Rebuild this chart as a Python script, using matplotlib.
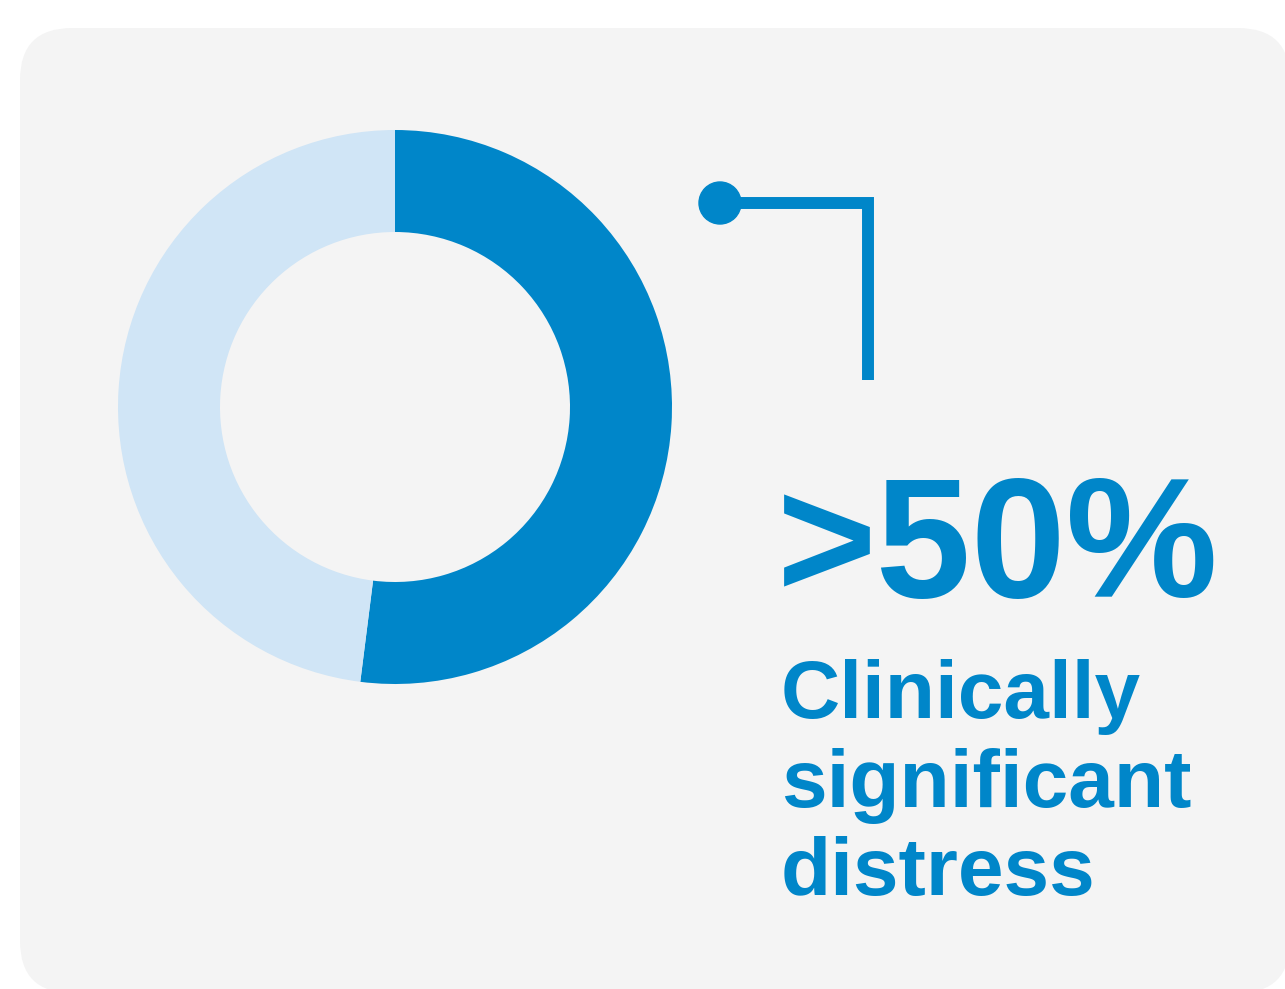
import matplotlib
matplotlib.use("Agg")
import matplotlib.pyplot as plt
from matplotlib.patches import FancyBboxPatch, Circle

plt.rcParams['font.family'] = ['Liberation Sans', 'DejaVu Sans']

# data
shares = [52, 48]          # distressed vs not (approx. read off the ring)
ring_colors = ['#0086C9', '#D0E5F6']
headline = '>50%'
caption = ['Clinically', 'significant', 'distress']

blue = '#0086C9'
W, H = 1285, 989

fig = plt.figure(figsize=(W / 100, H / 100), dpi=100)
ax = fig.add_axes([0, 0, 1, 1])

# rounded grey card (runs slightly off the right and bottom edges)
card = FancyBboxPatch((20, -4), 1290 - 20, H - 28 + 4,
                      boxstyle='round,pad=0,rounding_size=52',
                      facecolor='#F4F4F4', edgecolor='none', zorder=0)
ax.add_patch(card)

# donut
ax.pie(shares, colors=ring_colors, startangle=90, counterclock=False,
       center=(395, H - 407), radius=277,
       wedgeprops=dict(width=102, edgecolor='none', linewidth=0))

# connector with dot
ax.plot([720, 868, 868], [H - 203, H - 203, H - 380], color=blue,
        lw=8.6, solid_capstyle='butt', solid_joinstyle='miter', zorder=3)
ax.add_patch(Circle((720, H - 203), 21, color=blue, zorder=4))

# texts
ax.text(777, H - 597, headline, color=blue, fontsize=123,
        fontweight='bold', va='baseline', ha='left')
for i, line in enumerate(caption):
    ax.text(781, H - 718 - i * 88.5, line, color=blue, fontsize=59,
            fontweight='bold', va='baseline', ha='left')

ax.set_xlim(0, W)
ax.set_ylim(0, H)
ax.set_aspect('equal')
ax.axis('off')

fig.savefig('out.png', dpi=100, facecolor='white')
